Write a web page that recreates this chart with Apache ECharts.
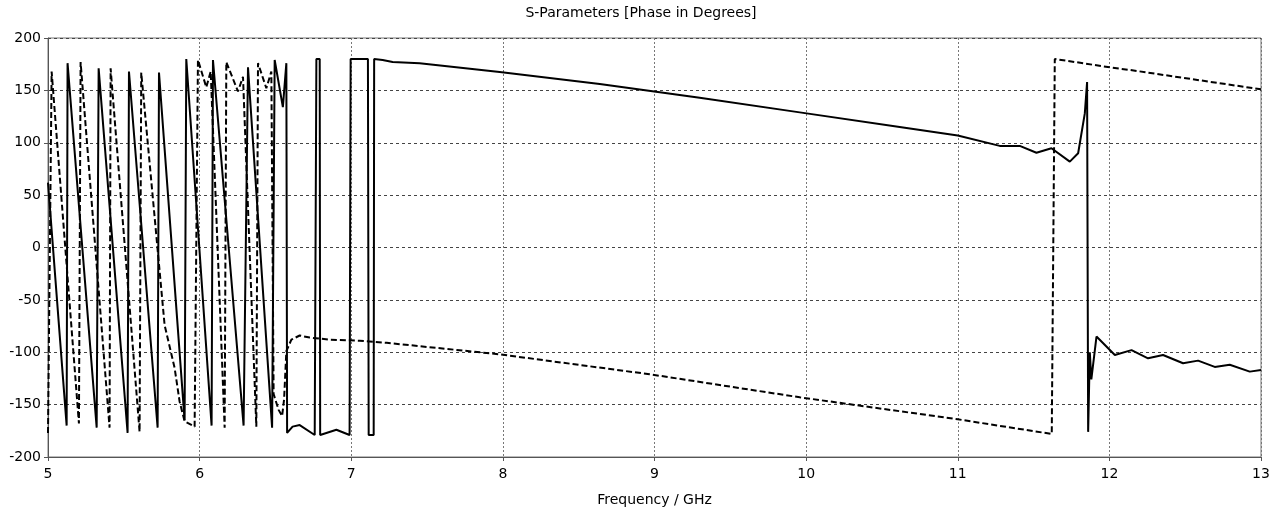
<!DOCTYPE html>
<html>
<head>
<meta charset="utf-8">
<script src="https://cdn.jsdelivr.net/npm/echarts/dist/echarts.min.js"></script>
<style>
  html, body { margin: 0; padding: 0; background: #fff; }
  #chart { width: 1282px; height: 515px; }
</style>
</head>
<body>
<div id="chart"></div>
<script>
// frequency in GHz, phase in degrees
let solidFreq = [5.000, 5.123, 5.129, 5.321, 5.334, 5.525, 5.534, 5.723, 5.732, 5.901, 5.912,
  6.079, 6.088, 6.290, 6.319, 6.478, 6.495, 6.549, 6.572, 6.577, 6.613, 6.660, 6.759, 6.770,
  6.792, 6.795, 6.902, 6.989, 6.996, 7.110, 7.115, 7.148, 7.151, 7.207, 7.273, 7.451, 7.979,
  8.639, 9.298, 9.958, 10.617, 11.000, 11.277, 11.409, 11.519, 11.618, 11.739, 11.794, 11.838,
  11.853, 11.860, 11.871, 11.881, 11.915, 12.036, 12.146, 12.255, 12.354, 12.486, 12.585,
  12.695, 12.794, 12.926, 13.000]
let solidPhase = [62, -170, 176, -172, 171, -177, 168, -172, 167, -165, 180,
  -170, 179, -170, 172, -172, 179, 134, 176, -177, -171, -169.5, -179, 180,
  180, -179, -174, -179, 180, 180, -179, -179, 180, 179, 177, 176, 167.5,
  156, 143, 129, 115, 107, 97, 97, 90.5, 94.7, 82, 90, 128,
  158, -176, -100, -126, -85, -102.6, -98, -105.8, -102.6, -110.5, -108,
  -114, -112, -118.5, -117]

let dashFreq = [5.000, 5.024, 5.204, 5.215, 5.406, 5.413, 5.604, 5.615, 5.769, 5.835, 5.868,
  5.901, 5.967, 5.980, 5.989, 6.044, 6.073, 6.165, 6.176, 6.253, 6.286, 6.374, 6.385, 6.440,
  6.473, 6.488, 6.521, 6.544, 6.557, 6.572, 6.605, 6.660, 6.726, 6.858, 7.055, 7.234, 7.979,
  8.968, 9.958, 11.000, 11.620, 11.640, 12.003, 12.135, 13.000]
let dashPhase = [-177, 168, -168, 177, -172, 171, -176, 167, -74, -115, -147,
  -166, -171, -172, 179, 153, 168, -172, 177, 149, 163, -171, 176, 152,
  168, -140, -155, -161, -145, -99, -88, -84, -86, -88, -89, -91, -102,
  -121, -143, -164, -178, 180, 172, 169.5, 151]

let xTicks = [5, 13, 1]
let yTicks = [-200, 200, 50]

function pairs(xs, ys) {
  return xs.map((x, i) => [x, ys[i]])
}

var chart = echarts.init(document.getElementById('chart'), null, { renderer: 'canvas' })
let font = 'DejaVu Sans'
var option = {
  animation: false,
  backgroundColor: '#fff',
  title: {
    text: 'S-Parameters [Phase in Degrees]',
    left: 'center',
    top: 1,
    textStyle: { fontFamily: font, fontSize: 14, fontWeight: 'normal', color: '#000' }
  },
  grid: {
    left: 48,
    right: 21,
    top: 38,
    bottom: 58,
    show: true,
    borderColor: '#777',
    borderWidth: 1,
    outerBoundsMode: 'none'
  },
  xAxis: {
    type: 'value',
    min: xTicks[0],
    max: xTicks[1],
    interval: xTicks[2],
    name: 'Frequency / GHz',
    nameLocation: 'middle',
    nameGap: 36,
    nameTextStyle: { fontFamily: font, fontSize: 14, color: '#000' },
    axisLine: { show: true, onZero: false, lineStyle: { color: '#555', width: 1 } },
    axisTick: { show: true, length: 4, lineStyle: { color: '#555' } },
    axisLabel: { fontFamily: font, fontSize: 14, color: '#000', margin: 10 },
    splitLine: { show: true, lineStyle: { color: '#777', type: [2, 2], width: 1 } }
  },
  yAxis: {
    type: 'value',
    min: yTicks[0],
    max: yTicks[1],
    interval: yTicks[2],
    axisLine: { show: true, onZero: false, lineStyle: { color: '#555', width: 1 } },
    axisTick: { show: true, length: 4, lineStyle: { color: '#555' } },
    axisLabel: { fontFamily: font, fontSize: 14, color: '#000', margin: 7 },
    splitLine: { show: true, lineStyle: { color: '#444', type: [3, 3], width: 1 } }
  },
  series: [
    {
      type: 'line',
      data: pairs(dashFreq, dashPhase),
      showSymbol: false,
      clip: true,
      lineStyle: { color: '#000', width: 2, type: [6, 3] }
    },
    {
      type: 'line',
      data: pairs(solidFreq, solidPhase),
      showSymbol: false,
      clip: true,
      lineStyle: { color: '#000', width: 2 }
    }
  ]
}
chart.setOption(option)
</script>
</body>
</html>
